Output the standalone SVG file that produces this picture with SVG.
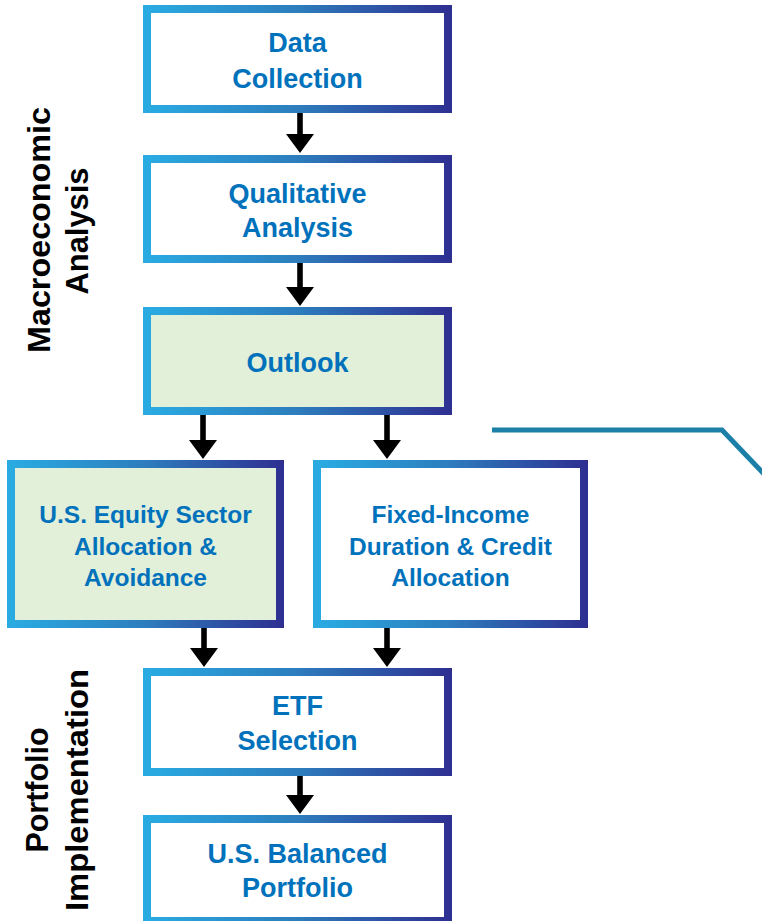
<svg xmlns="http://www.w3.org/2000/svg" width="762" height="921" viewBox="0 0 762 921">
<defs>
<linearGradient id="bg" x1="0" y1="0" x2="1" y2="0">
<stop offset="0" stop-color="#29abe2"/>
<stop offset="0.5" stop-color="#2d7dbd"/>
<stop offset="1" stop-color="#2e3192"/>
</linearGradient>
<style>
.box{fill:#ffffff;stroke:url(#bg);stroke-width:8}
.green{fill:#e2efd9}
.t{font-family:"Liberation Sans",Arial,sans-serif;font-weight:bold;fill:#0072bc;text-anchor:middle;font-size:27px}
.s{font-size:24.5px}
.lab{font-family:"Liberation Sans",Arial,sans-serif;font-weight:bold;fill:#000000;text-anchor:middle;font-size:31px}
.arr{fill:#000000}
</style>
</defs>
<rect width="762" height="921" fill="#ffffff"/>

<g id="label-macro">
<text class="lab" transform="translate(50,230) rotate(-90)" textLength="246" lengthAdjust="spacingAndGlyphs">Macroeconomic</text>
<text class="lab" transform="translate(88,231) rotate(-90)" textLength="127" lengthAdjust="spacingAndGlyphs">Analysis</text>
</g>
<g id="label-portfolio">
<text class="lab" transform="translate(48,790) rotate(-90)" textLength="125" lengthAdjust="spacingAndGlyphs">Portfolio</text>
<text class="lab" transform="translate(88,790) rotate(-90)" textLength="242" lengthAdjust="spacingAndGlyphs">Implementation</text>
</g>

<g id="data-collection">
<rect class="box" x="147" y="9" width="301" height="100"/>
<text class="t" x="297.5" y="52">Data</text>
<text class="t" x="297.5" y="88">Collection</text>
</g>
<g id="qualitative-analysis">
<rect class="box" x="147" y="159" width="301" height="100"/>
<text class="t" x="297.5" y="203">Qualitative</text>
<text class="t" x="297.5" y="237">Analysis</text>
</g>
<g id="outlook">
<rect class="box green" x="147" y="311" width="301" height="100"/>
<text class="t" x="297.5" y="372">Outlook</text>
</g>
<g id="equity-sector">
<rect class="box green" x="11" y="464" width="269" height="160"/>
<text class="t s" x="145.5" y="523">U.S. Equity Sector</text>
<text class="t s" x="145.5" y="554.5">Allocation &amp;</text>
<text class="t s" x="145.5" y="586">Avoidance</text>
</g>
<g id="fixed-income">
<rect class="box" x="317" y="464" width="267" height="160"/>
<text class="t s" x="450.5" y="523">Fixed-Income</text>
<text class="t s" x="450.5" y="554.5">Duration &amp; Credit</text>
<text class="t s" x="450.5" y="586">Allocation</text>
</g>
<g id="etf-selection">
<rect class="box" x="147" y="672" width="301" height="100"/>
<text class="t" x="297.5" y="715">ETF</text>
<text class="t" x="297.5" y="750">Selection</text>
</g>
<g id="balanced-portfolio">
<rect class="box" x="147" y="819" width="301" height="102"/>
<text class="t" x="297.5" y="863">U.S. Balanced</text>
<text class="t" x="297.5" y="897">Portfolio</text>
</g>

<g id="connectors">
<path class="arr" d="M297.2,113 H302.8 V134 H314 L300,153 L286,134 H297.2 Z"/>
<path class="arr" d="M297.2,263 H302.8 V287 H314 L300,306 L286,287 H297.2 Z"/>
<path class="arr" d="M200.2,415 H205.8 V440 H217 L203,459 L189,440 H200.2 Z"/>
<path class="arr" d="M384.2,415 H389.8 V440 H401 L387,459 L373,440 H384.2 Z"/>
<path class="arr" d="M201.2,628 H206.8 V648 H218 L204,667 L190,648 H201.2 Z"/>
<path class="arr" d="M384.2,628 H389.8 V648 H401 L387,667 L373,648 H384.2 Z"/>
<path class="arr" d="M297.2,776 H302.8 V795 H314 L300,814 L286,795 H297.2 Z"/>
<polyline points="492,430 722,430 765,475" fill="none" stroke="#1b7fa8" stroke-width="5"/>
</g>
</svg>
